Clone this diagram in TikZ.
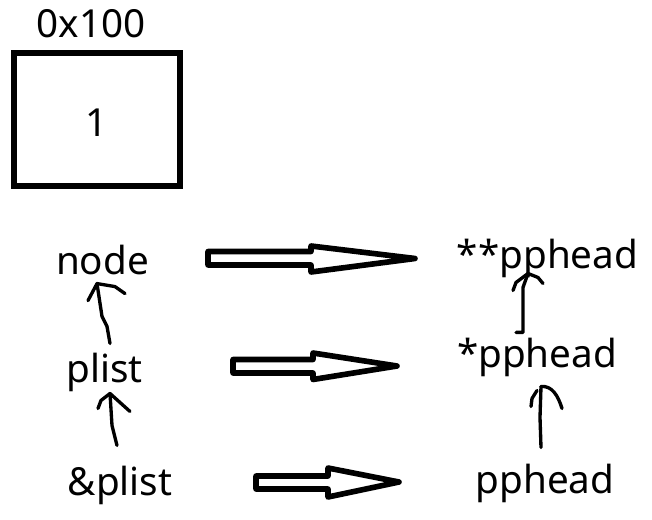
\documentclass[tikz,border=0pt]{standalone}
\usepackage{fontspec}
\setmainfont{Noto Sans}
\usetikzlibrary{calc}
\tikzset{
  lbl/.style={font=\fontsize{22}{26}\selectfont, anchor=base},
  cell/.style={line width=3.4pt},
  fat/.style={line width=3.2pt, line join=round},
  hand/.style={line width=1.9pt, line cap=round, line join=round},
}
\begin{document}
\begin{tikzpicture}[x=0.02cm,y=-0.02cm]
\useasboundingbox (0,0) rectangle (652,520);
% the memory cell
\draw[cell] (14,53) rectangle (180,186);
\node[lbl] (addr) at (91,38) {0x100};
\node[lbl] (val) at (97,137) {1};
% left column
\node[lbl] (node) at (102.5,274) {node};
\node[lbl] (plist) at (104.5,382) {plist};
\node[lbl] (aplist) at (120,495) {\&plist};
% right column
\node[lbl] (pp2) at (547.5,268) {**pphead};
\node[lbl] (pp1) at (537,367) {*pphead};
\node[lbl] (pp0) at (545,493) {pphead};
% fat arrows
\draw[fat] (208,251.5) -- (311,251.5) -- (311,246) -- (415,258.5) -- (311,272) -- (311,265) -- (208,265) -- cycle;
\draw[fat] (233,359.5) -- (313,359.5) -- (313,353) -- (397,366) -- (313,379.5) -- (313,373) -- (233,373) -- cycle;
\draw[fat] (256,476) -- (328,476) -- (328,468) -- (399,482) -- (328,497) -- (328,489) -- (256,489) -- cycle;
% hand drawn arrows, left
\coordinate (t1) at ($(node.south)+(-5.5,3)$);
\draw[hand] ($(plist.north)+(5.5,-3)$) -- ++(-3,-17) -- ++(-5,-10) -- (t1);
\draw[hand] ($(t1)+(-9,17)$) -- (t1) -- ++(18,3) -- ++(10,7);
\coordinate (t2) at ($(plist.south)+(5.5,-4)$);
\draw[hand] ($(aplist.north)+(-3,-14)$) -- ++(-5,-20) -- (t2);
\draw[hand] ($(t2)+(-12,15)$) -- ++(3,-8) -- (t2) -- ++(20,18);
% hand drawn arrows, right
\coordinate (t3) at ($(pp2.south)+(-19.5,-10)$);
\draw[hand] ($(pp1.north)+(-21,1)$) -- ++(7,0) -- ++(0,-45) -- (t3);
\draw[hand] ($(t3)+(-15,17)$) -- ++(3,-8) -- (t3) -- ++(10,4) -- ++(5,6);
\coordinate (t4) at ($(pp1.south)+(4,4)$);
\draw[hand] ($(pp0.north)+(-4,-10)$) -- ++(-1,-30) -- (t4);
\draw[hand] (t4) .. controls ++(11,-1) and ++(-4,-13) .. ++(21,22);
\draw[hand] ($(t4)+(-4,4)$) -- ++(-5,8) -- ++(-1,8);
\end{tikzpicture}
\end{document}
